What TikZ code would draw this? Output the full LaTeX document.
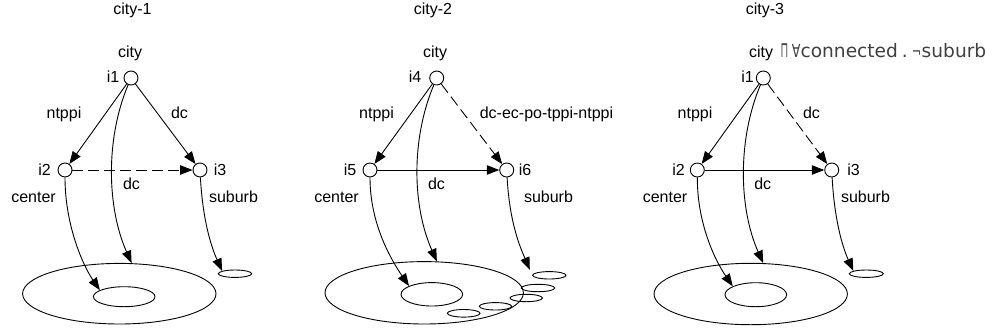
\documentclass[tikz,border=0pt]{standalone}
\usepackage{fontspec}
\setmainfont{Liberation Sans}
\newfontfamily\exprfont{DejaVu Sans}
\usetikzlibrary{arrows.meta,shapes.geometric}
\begin{document}
\begin{tikzpicture}[x=1pt,y=-1pt,
  lbl/.style={anchor=base,inner sep=0pt,font=\fontsize{16}{19}\selectfont},
  pt/.style={circle,draw,fill=white,minimum size=14pt,inner sep=0pt,line width=0.9pt},
  reg/.style={ellipse,draw,inner sep=0pt,line width=0.9pt},
  arr/.style={-{Triangle[length=12.5pt,width=9.5pt]},line width=0.9pt},
  dsh/.style={arr,dash pattern=on 11pt off 5pt}]
\useasboundingbox (0,0) rectangle (993,333);

% ---------- panel 1 ----------
\node[lbl] (t1) at (132.5,14.5) {city-1};
\node[lbl] (c1) at (130,57) {city};
\node[reg,minimum width=193.4pt,minimum height=60.6pt] (big1) at (119.3,293.7) {};
\node[reg,minimum width=61.6pt,minimum height=20pt] (in1) at (124.2,296.7) {};
\node[reg,minimum width=33.4pt,minimum height=7.4pt] (sm1) at (235,273.7) {};
\node[pt] (a1) at (131,78) {};
\node[pt] (a2) at (65,170) {};
\node[pt] (a3) at (200,170) {};
\node[lbl] (la1) at (113,82) {i1};
\node[lbl] (la2) at (44.5,175.5) {i2};
\node[lbl] (la3) at (220,175.5) {i3};
\node[lbl] (ln1) at (64,118) {ntppi};
\node[lbl] (ld1) at (179.5,118) {dc};
\node[lbl] (lh1) at (131.5,189) {dc};
\node[lbl] (lc1) at (33.5,202) {center};
\node[lbl] (ls1) at (233.5,202) {suburb};
\draw[arr] (a1) -- (a2);
\draw[arr] (a1) -- (a3);
\draw[dsh] (a2) -- (a3);
\draw[arr] (a1) .. controls +(-26,62) and +(-24.4,-54.7) .. (big1.68);
\draw[arr] (a2) .. controls +(0,55) and +(-17,-25) .. (in1.165);
\draw[arr] (a3) .. controls +(3,55) and +(-9,-20) .. (sm1.168);

% ---------- panel 2 ----------
\node[lbl] (t2) at (433,14.5) {city-2};
\node[lbl] (c2) at (435,57) {city};
\node[reg,minimum width=198.4pt,minimum height=62.4pt] (big2) at (424.2,292.8) {};
\node[reg,minimum width=61.6pt,minimum height=23.4pt] (in2) at (431.8,294.3) {};
\node[reg,minimum width=33.4pt,minimum height=7.4pt] (e1) at (549.3,275.3) {};
\node[reg,minimum width=33.4pt,minimum height=7.4pt] (e2) at (538,288) {};
\node[reg,minimum width=32.4pt,minimum height=7.4pt] (e3) at (526.2,298) {};
\node[reg,minimum width=32.4pt,minimum height=7.4pt] (e4) at (495.5,306.3) {};
\node[reg,minimum width=32.7pt,minimum height=7.6pt] (e5) at (463.7,313.3) {};
\node[pt] (b4) at (436.7,78) {};
\node[pt] (b5) at (370,170) {};
\node[pt] (b6) at (506.7,170) {};
\node[lbl] (lb4) at (415,82) {i4};
\node[lbl] (lb5) at (350,175.5) {i5};
\node[lbl] (lb6) at (525,175.5) {i6};
\node[lbl] (ln2) at (376.5,118) {ntppi};
\node[lbl] (ld2) at (546.5,118) {dc-ec-po-tppi-ntppi};
\node[lbl] (lh2) at (436.5,189) {dc};
\node[lbl] (lc2) at (336.5,202) {center};
\node[lbl] (ls2) at (548.5,202) {suburb};
\draw[arr] (b4) -- (b5);
\draw[dsh] (b4) -- (b6);
\draw[arr] (b5) -- (b6);
\draw[arr] (b4) .. controls +(-26,62) and +(-24.4,-54.7) .. (big2.68);
\draw[arr] (b5) .. controls +(0,55) and +(-17,-25) .. (in2.160);
\draw[arr,shorten >=6pt] (b6) .. controls +(3,55) and +(-11,-26) .. (e1.west);

% ---------- panel 3 ----------
\node[lbl] (t3) at (765,14.5) {city-3};
\node[lbl] (c3) at (761,57) {city};
\node[anchor=base west,inner sep=0pt,font=\exprfont\fontsize{18.6}{22}\selectfont,text=black!75] (ex) at (780.5,57)
  {{\fontsize{22}{22}\selectfont\scalebox{0.45}[1]{⊓}}\hspace{3.5pt}{\fontsize{18}{18}\selectfont\scalebox{0.7}[1]{∀}}connected\hspace{4pt}.\hspace{4pt}{\fontsize{16}{16}\selectfont\scalebox{0.7}[1]{¬}}\hspace{0.5pt}suburb};
\node[reg,minimum width=193.4pt,minimum height=61.4pt] (big3) at (750.7,294) {};
\node[reg,minimum width=61.6pt,minimum height=24pt] (in3) at (755.8,294.7) {};
\node[reg,minimum width=34pt,minimum height=7.4pt] (sm3) at (866.3,273.7) {};
\node[pt] (d1) at (763.3,78) {};
\node[pt] (d2) at (697.3,170) {};
\node[pt] (d3) at (831.7,170) {};
\node[lbl] (ld31) at (747.5,82) {i1};
\node[lbl] (ld32) at (678.5,175.5) {i2};
\node[lbl] (ld33) at (853.5,175.5) {i3};
\node[lbl] (ln3) at (695,118) {ntppi};
\node[lbl] (ldc3) at (811.5,118) {dc};
\node[lbl] (lh3) at (762.7,189) {dc};
\node[lbl] (lc3) at (665,202) {center};
\node[lbl] (ls3) at (865.5,202) {suburb};
\draw[arr] (d1) -- (d2);
\draw[dsh] (d1) -- (d3);
\draw[arr] (d2) -- (d3);
\draw[arr] (d1) .. controls +(-26,62) and +(-24.4,-54.7) .. (big3.68);
\draw[arr] (d2) .. controls +(0,55) and +(-17,-25) .. (in3.160);
\draw[arr] (d3) .. controls +(3,55) and +(-9,-20) .. (sm3.168);
\end{tikzpicture}
\end{document}
